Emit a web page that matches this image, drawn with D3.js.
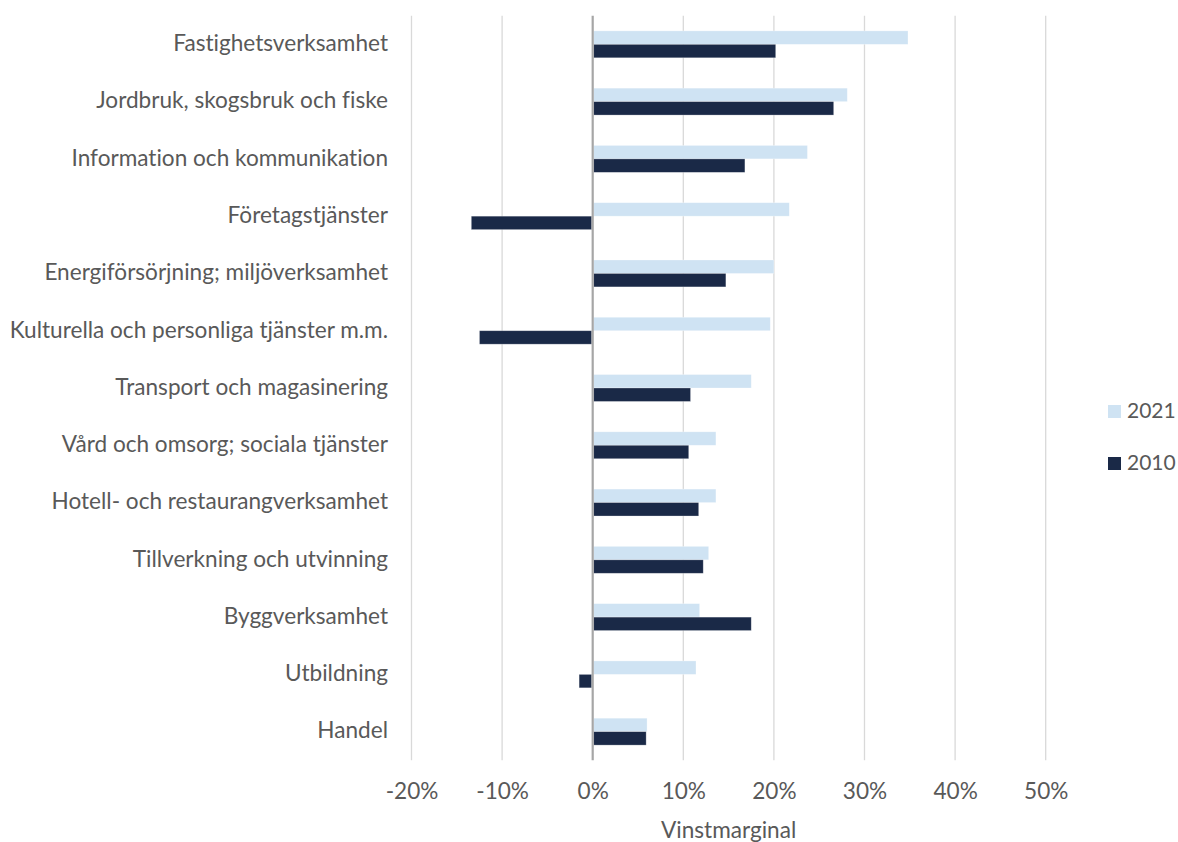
<!DOCTYPE html>
<html>
<head>
<meta charset="utf-8">
<script src="https://cdn.jsdelivr.net/npm/d3@7"></script>
<style>
    body { margin: 0; background: #fff; }
    text { font-family: Lato, "Open Sans", sans-serif; fill: #595959; font-variant-ligatures: none; }
</style>
</head>
<body>
<script>
const categories = [
    'Fastighetsverksamhet',
    'Jordbruk, skogsbruk och fiske',
    'Information och kommunikation',
    'Företagstjänster',
    'Energiförsörjning; miljöverksamhet',
    'Kulturella och personliga tjänster m.m.',
    'Transport och magasinering',
    'Vård och omsorg; sociala tjänster',
    'Hotell- och restaurangverksamhet',
    'Tillverkning och utvinning',
    'Byggverksamhet',
    'Utbildning',
    'Handel'
];
const series = ['2021', '2010'];
const values2021 = [34.8, 28.1, 23.7, 21.7, 20.0, 19.6, 17.5, 13.6, 13.6, 12.8, 11.8, 11.4, 6.0];
const values2010 = [20.2, 26.6, 16.8, -13.4, 14.7, -12.5, 10.8, 10.6, 11.7, 12.2, 17.5, -1.5, 5.9];
const xTicks = [-20, -10, 0, 10, 20, 30, 40, 50];
const colors = { '2021': '#cfe3f3', '2010': '#1a2947' };

let width = 1178;
let height = 842;
let fontSize = '22.6px';

const svg = d3.select('body')
    .append('svg')
    .attr('width', width)
    .attr('height', height);

let x = d3.scaleLinear()
    .domain([-20, 50])
    .range([411.5, 1045.7]);

let y = d3.scaleBand()
    .domain(categories)
    .range([15.7, 760.3])
    .paddingInner(0.53)
    .paddingOuter(0.265);

let ySub = d3.scaleBand()
    .domain(series)
    .range([0, y.bandwidth()]);

let rows = categories.map((c, i) => ({
    name: c,
    vals: [
        { s: '2021', v: values2021[i] },
        { s: '2010', v: values2010[i] }
    ]
}));

// gridlines
svg.append('g')
    .selectAll('line')
    .data(xTicks.filter(t => t !== 0))
    .enter()
    .append('line')
    .attr('x1', d => x(d))
    .attr('x2', d => x(d))
    .attr('y1', 15.7)
    .attr('y2', 760.3)
    .attr('stroke', '#d9d9d9')
    .attr('stroke-width', 1.3);

// bars
let groups = svg.append('g')
    .selectAll('g')
    .data(rows)
    .enter()
    .append('g')
    .attr('transform', d => 'translate(0,' + y(d.name) + ')');

groups.selectAll('rect')
    .data(d => d.vals)
    .enter()
    .append('rect')
    .attr('x', d => d.v >= 0 ? x(0) + 1 : x(d.v))
    .attr('width', d => d.v >= 0 ? x(d.v) - x(0) - 1 : x(0) - x(d.v) - 1)
    .attr('y', d => ySub(d.s))
    .attr('height', ySub.bandwidth())
    .attr('fill', d => colors[d.s])
    .attr('stroke', '#ffffff')
    .attr('stroke-opacity', 0.4)
    .attr('stroke-width', 0.7);

// zero line
svg.append('line')
    .attr('x1', x(0))
    .attr('x2', x(0))
    .attr('y1', 15.7)
    .attr('y2', 760.3)
    .attr('stroke', '#a6a6a6')
    .attr('stroke-width', 2.2);

// category axis
let yAxis = svg.append('g')
    .attr('transform', 'translate(388,0)')
    .call(d3.axisLeft(y).tickSize(0).tickPadding(0));
yAxis.select('.domain').remove();
yAxis.selectAll('text')
    .style('font-size', fontSize)
    .attr('fill', '#595959')
    .attr('dy', '0.3em');

// value axis
let xAxis = svg.append('g')
    .attr('transform', 'translate(0,779)')
    .call(d3.axisBottom(x).tickValues(xTicks).tickSize(0).tickPadding(0)
        .tickFormat(d => d + '%'));
xAxis.select('.domain').remove();
xAxis.selectAll('text')
    .style('font-size', fontSize)
    .attr('fill', '#595959')
    .attr('dy', '0.9em');

svg.append('text')
    .attr('x', (x(-20) + x(50)) / 2)
    .attr('y', 838)
    .attr('text-anchor', 'middle')
    .style('font-size', fontSize)
    .text('Vinstmarginal');

// legend
let legend = svg.append('g')
    .selectAll('g')
    .data(series)
    .enter()
    .append('g')
    .attr('transform', (d, i) => 'translate(1108,' + (405 + i * 52) + ')');

legend.append('rect')
    .attr('width', 13)
    .attr('height', 13)
    .attr('fill', d => colors[d]);

legend.append('text')
    .attr('x', 19)
    .attr('y', 13)
    .style('font-size', '21px')
    .text(d => d);
</script>
</body>
</html>
